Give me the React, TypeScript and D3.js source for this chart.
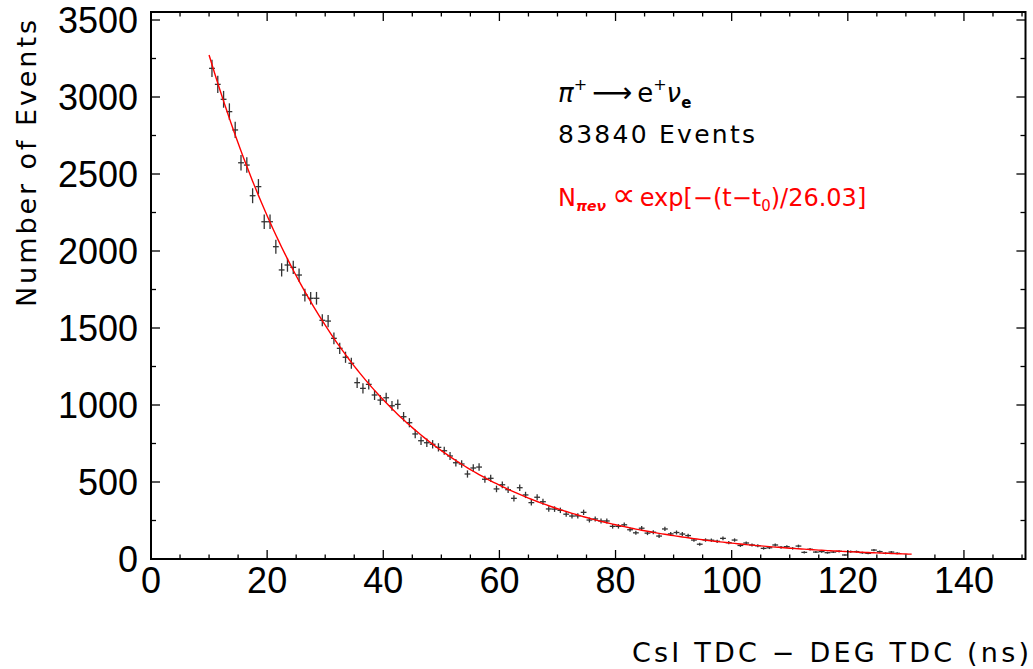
import React from 'react';
import * as d3 from 'd3';

// histogram: 1 ns bins starting at 10 ns
const binLow = 10;
const binWidth = 1;
const counts = [
  3186, 3082, 2985, 2905, 2786, 2573, 2558, 2359, 2418, 2190,
  2190, 2028, 1877, 1909, 1894, 1844, 1714, 1693, 1693, 1550,
  1545, 1433, 1368, 1310, 1271, 1145, 1108, 1134, 1065, 1032,
  1047, 995, 1004, 924, 885, 812, 768, 755, 745, 725,
  703, 669, 625, 617, 552, 591, 597, 518, 524, 455,
  482, 450, 394, 463, 416, 366, 401, 372, 325, 324,
  316, 291, 279, 280, 303, 253, 260, 247, 247, 212,
  212, 222, 190, 170, 200, 168, 174, 149, 195, 163,
  172, 162, 152, 123, 96, 123, 122, 115, 134, 106,
  123, 88, 104, 91, 86, 69, 73, 91, 76, 80,
  69, 84, 43, 63, 45, 48, 41, 45, 50, 26,
  48, 48, 41, 37, 58, 48, 37, 45, 37,
];

// fit: N ~ exp(-(t - t0)/26.03)
const fitNorm = 3273;
const fitT0 = 10;
const fitTau = 26.03;
const fitEnd = 131;

const xTickLabels = [0, 20, 40, 60, 80, 100, 120, 140];
const yTickLabels = [0, 500, 1000, 1500, 2000, 2500, 3000, 3500];

const width = 1033;
const height = 669;
const margin = { top: 12, right: 7.5, bottom: 110, left: 151 };
const numFont = 'Liberation Sans, Arial, sans-serif';
const txtFont = 'DejaVu Sans, Verdana, sans-serif';

const App = () => {
  const innerW = width - margin.left - margin.right;
  const innerH = height - margin.top - margin.bottom;

  const x = d3.scaleLinear().domain([0, 150.6]).range([0, innerW]);
  const y = d3.scaleLinear().domain([0, 3552]).range([innerH, 0]);

  const xMinor = d3.range(0, 151, 5);
  const yMinor = d3.range(0, 3501, 250);

  const fitLine = d3.line<number>()
    .x(t => x(t))
    .y(t => y(fitNorm * Math.exp(-(t - fitT0) / fitTau)));
  const fitPts = d3.range(fitT0, fitEnd + 0.01, 0.5);

  const bins = counts.map((c, i) => ({
    t: binLow + binWidth * (i + 0.5),
    c,
    err: Math.sqrt(c),
  }));

  return (
    <div style={{ position: 'absolute', left: 0, top: 0 }}>
      <svg width={width} height={height} style={{ display: 'block', background: '#fff' }}>
        <g transform={`translate(${margin.left},${margin.top})`}>
          {/* data points with error bars */}
          <g stroke="#333" strokeWidth={1.3}>
            {bins.map((b, i) => (
              <g key={i}>
                <line x1={x(b.t)} x2={x(b.t)} y1={y(b.c - b.err)} y2={y(b.c + b.err)} />
                <line x1={x(b.t - binWidth / 2)} x2={x(b.t + binWidth / 2)} y1={y(b.c)} y2={y(b.c)} />
              </g>
            ))}
          </g>

          <path d={fitLine(fitPts) || ''} fill="none" stroke="#ff0000" strokeWidth={1.4} />

          {/* ticks on all four sides */}
          <g stroke="#000" strokeWidth={1.3}>
            {xMinor.map(v => {
              const len = v % 20 === 0 ? 9 : 4.5;
              return (
                <g key={v}>
                  <line x1={x(v)} x2={x(v)} y1={innerH} y2={innerH - len} />
                  <line x1={x(v)} x2={x(v)} y1={0} y2={len} />
                </g>
              );
            })}
            {yMinor.map(v => {
              const len = v % 500 === 0 ? 9 : 5;
              return (
                <g key={v}>
                  <line x1={0} x2={len} y1={y(v)} y2={y(v)} />
                  <line x1={innerW} x2={innerW - len} y1={y(v)} y2={y(v)} />
                </g>
              );
            })}
          </g>

          <rect x={0} y={0} width={innerW} height={innerH} fill="none" stroke="#000" strokeWidth={2} />

          <g fontFamily={numFont} fontSize={36} fill="#000">
            {xTickLabels.map(v => (
              <text key={v} x={x(v)} y={innerH + 34} textAnchor="middle">{v}</text>
            ))}
            {yTickLabels.map(v => (
              <text key={v} x={-13} y={y(v)} dy="0.36em" textAnchor="end">{v}</text>
            ))}
          </g>
        </g>

        {/* axis titles */}
        <text
          x={1029} y={662} textAnchor="end" fontFamily={txtFont} fontSize={27}
          textLength={397} lengthAdjust="spacing"
        >CsI TDC − DEG TDC (ns)</text>
        <text
          transform="translate(36,20) rotate(-90)" textAnchor="end" fontFamily={txtFont} fontSize={27}
          textLength={287} lengthAdjust="spacing"
        >Number of Events</text>

        {/* legend */}
        <g fontFamily={txtFont} fill="#000">
          <text x={558} y={102} fontSize={26}>
            <tspan fontStyle="italic">π</tspan>
            <tspan dy={-12} fontSize={16}>+</tspan>
            <tspan dy={12} dx={5} fontSize={28}>⟶</tspan>
            <tspan dx={5}>e</tspan>
            <tspan dy={-12} fontSize={16}>+</tspan>
            <tspan dy={12} fontStyle="italic">ν</tspan>
            <tspan dy={6} fontSize={15} fontWeight="bold">e</tspan>
          </text>
          <text x={558} y={143} fontSize={25} textLength={197} lengthAdjust="spacing">83840 Events</text>
          <text x={558} y={206} fontSize={24} fill="#ff0000">
            N
            <tspan dy={5} fontSize={14} fontWeight="bold" fontStyle="italic">πeν</tspan>
            <tspan dy={-5} dx={6} fontSize={33}>∝</tspan>
            <tspan dx={4}>exp[−(t−t</tspan>
            <tspan dy={5} fontSize={15}>0</tspan>
            <tspan dy={-5}>)/26.03]</tspan>
          </text>
        </g>
      </svg>
    </div>
  );
};

export default App;
